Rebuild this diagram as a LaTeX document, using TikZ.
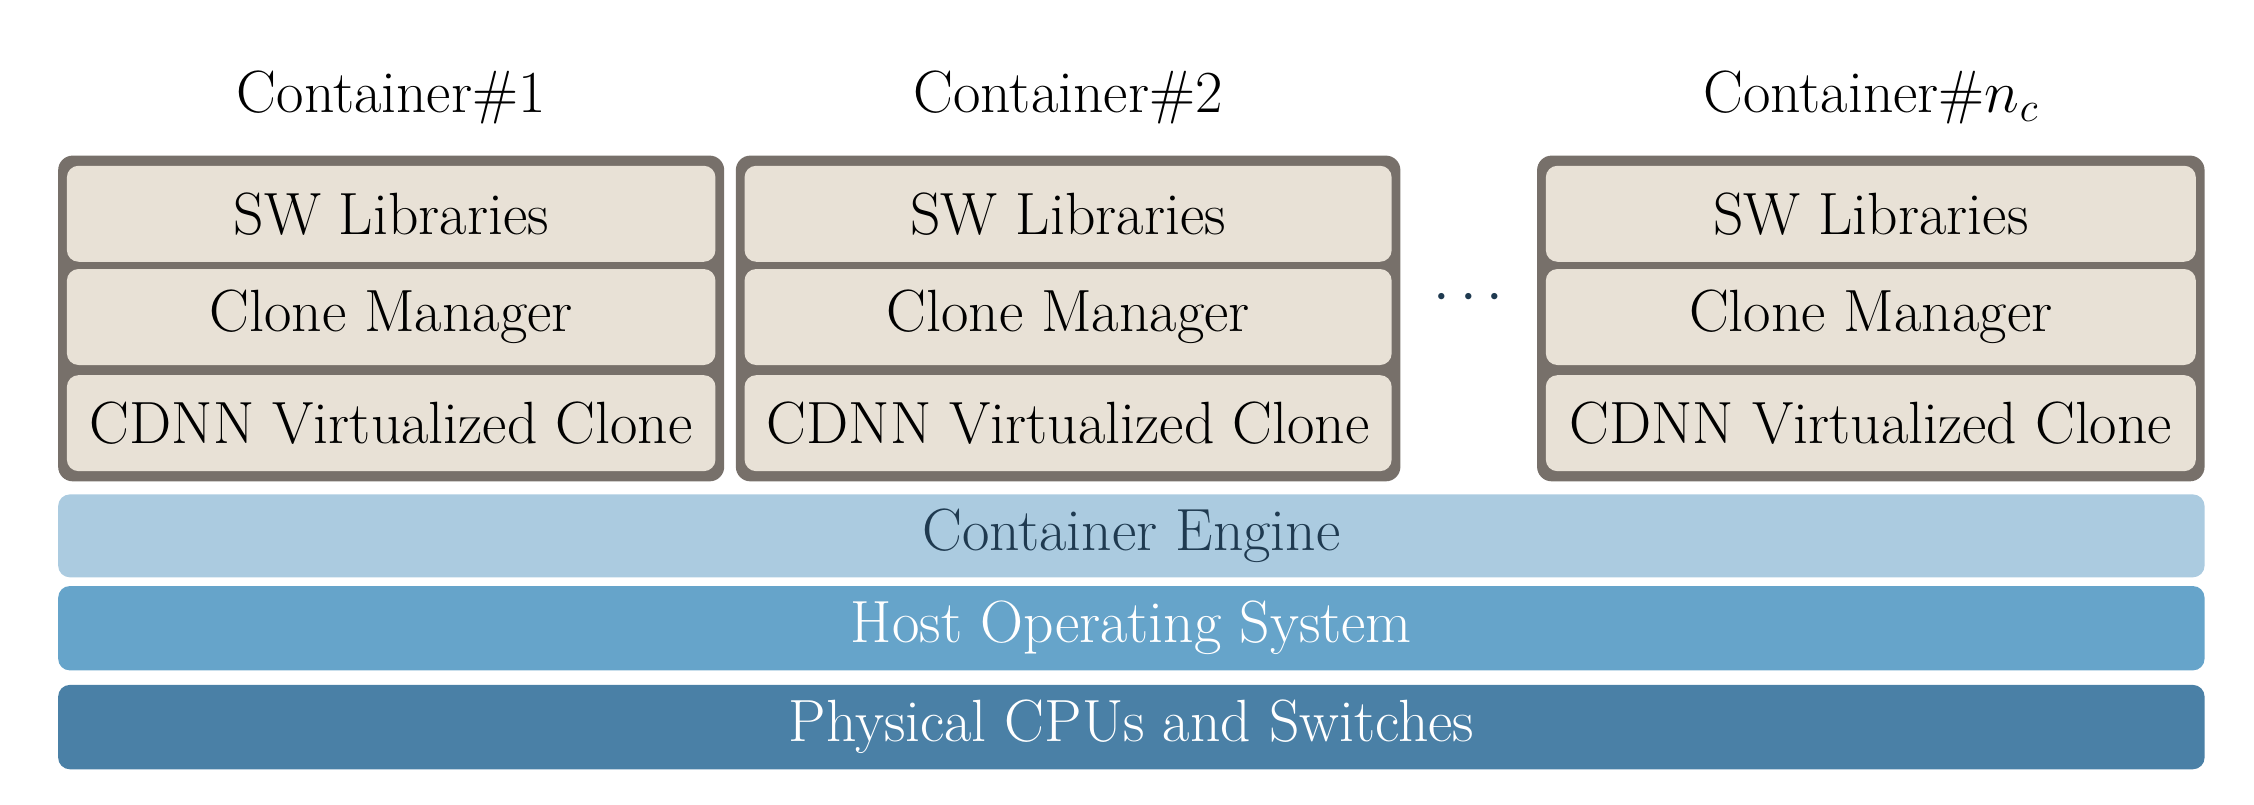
\RequirePackage{fix-cm}
\documentclass[tikz,border=0pt]{standalone}
\begin{document}
\begin{tikzpicture}[x=1pt,y=-1pt,
  txt/.style={font=\fontsize{41}{45}\selectfont},
  inner/.style={fill=beige,rounded corners=8pt,txt,inner sep=0pt},
  layer/.style={rounded corners=8pt,txt,inner sep=0pt}]
\definecolor{beige}{HTML}{E8E1D6}
\definecolor{boxgray}{HTML}{77706A}
\definecolor{eng}{HTML}{ABCBE0}
\definecolor{host}{HTML}{66A4CA}
\definecolor{phys}{HTML}{4A80A6}
\definecolor{engtxt}{HTML}{1F3A50}
\useasboundingbox (0,0) rectangle (1550,553);
\foreach \i/\xa/\xb/\t in {1/40/498/Container\#1, 2/506/963/Container\#2, 3/1057/1516/Container\#$n_c$}{
  \node[txt] (t\i) at ({(\xa+\xb)/2},67) {\t};
  \fill[boxgray,rounded corners=10pt] (\xa,107) rectangle (\xb,331);
  \node[inner,minimum width={\xb-\xa-12},minimum height=66] (sw\i) at ({(\xa+\xb)/2},147) {SW Libraries};
  \node[inner,minimum width={\xb-\xa-12},minimum height=66] (cm\i) at ({(\xa+\xb)/2},218) {Clone Manager};
  \node[inner,minimum width={\xb-\xa-12},minimum height=66] (cd\i) at ({(\xa+\xb)/2},291) {CDNN Virtualized Clone};
}
\node[txt,text=engtxt] (dots) at (1010,205) {$\cdots$};
\node[layer,fill=eng,text=engtxt,minimum width=1476,minimum height=57] (engine) at (778,368.5) {Container Engine};
\node[layer,fill=host,text=white,minimum width=1476,minimum height=58] (os) at (778,432) {Host Operating System};
\node[layer,fill=phys,text=white,minimum width=1476,minimum height=58] (cpu) at (778,500) {Physical CPUs and Switches};
\end{tikzpicture}
\end{document}
